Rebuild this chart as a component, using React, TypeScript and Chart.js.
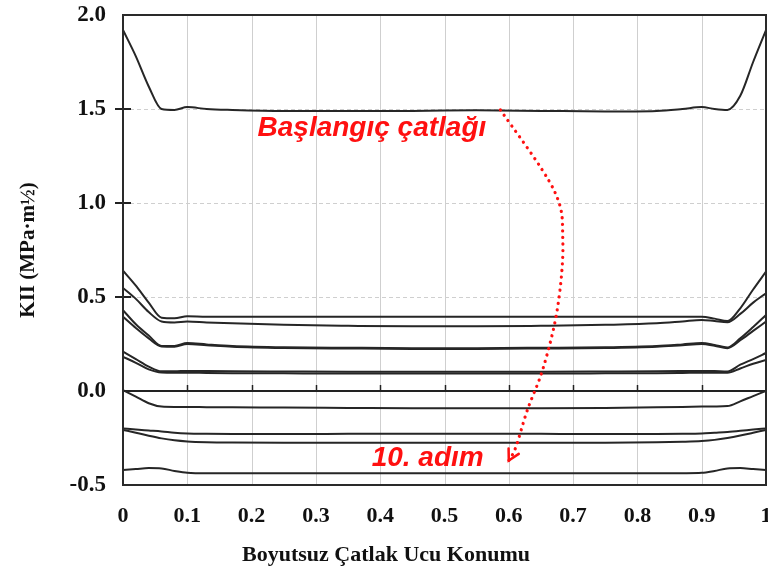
import React, { useEffect, useRef } from "react";
import { Chart, registerables } from "chart.js";

Chart.register(...registerables);

// ---- data ----
const xPositions = [0, 0.02, 0.04, 0.06, 0.08, 0.1, 0.13, 0.17, 0.25, 0.35, 0.45, 0.55, 0.65, 0.75, 0.83, 0.87, 0.9, 0.92, 0.94, 0.96, 0.98, 1];

const step0 = [1.92, 1.78, 1.62, 1.5, 1.495, 1.51, 1.5, 1.495, 1.49, 1.49, 1.49, 1.493, 1.49, 1.487, 1.49, 1.5, 1.51, 1.5, 1.495, 1.57, 1.75, 1.92];
const step1 = [0.64, 0.56, 0.47, 0.39, 0.387, 0.398, 0.395, 0.395, 0.395, 0.395, 0.395, 0.395, 0.395, 0.395, 0.395, 0.395, 0.395, 0.385, 0.372, 0.44, 0.54, 0.635];
const step2 = [0.548, 0.49, 0.42, 0.37, 0.365, 0.37, 0.365, 0.36, 0.352, 0.347, 0.344, 0.344, 0.347, 0.352, 0.36, 0.37, 0.378, 0.372, 0.366, 0.41, 0.47, 0.52];
const step3 = [0.43, 0.355, 0.295, 0.24, 0.24, 0.255, 0.248, 0.24, 0.233, 0.23, 0.228, 0.228, 0.23, 0.233, 0.24, 0.248, 0.255, 0.245, 0.232, 0.28, 0.34, 0.404];
const step4 = [0.395, 0.335, 0.28, 0.237, 0.236, 0.25, 0.244, 0.236, 0.229, 0.226, 0.224, 0.224, 0.226, 0.229, 0.236, 0.244, 0.25, 0.241, 0.228, 0.27, 0.32, 0.369];
const step5 = [0.209, 0.17, 0.13, 0.105, 0.105, 0.107, 0.106, 0.105, 0.104, 0.103, 0.103, 0.103, 0.103, 0.104, 0.105, 0.106, 0.107, 0.106, 0.104, 0.14, 0.17, 0.202];
const step6 = [0.182, 0.15, 0.115, 0.098, 0.097, 0.097, 0.096, 0.095, 0.094, 0.093, 0.093, 0.093, 0.093, 0.094, 0.095, 0.096, 0.097, 0.097, 0.097, 0.12, 0.145, 0.165];
const step7 = [0.005, -0.03, -0.065, -0.083, -0.085, -0.085, -0.086, -0.087, -0.088, -0.09, -0.092, -0.092, -0.092, -0.09, -0.087, -0.085, -0.083, -0.082, -0.08, -0.055, -0.027, 0.0];
const step8 = [-0.199, -0.205, -0.21, -0.215, -0.222, -0.226, -0.228, -0.229, -0.229, -0.228, -0.227, -0.227, -0.228, -0.229, -0.229, -0.228, -0.226, -0.222, -0.218, -0.212, -0.205, -0.199];
const step9 = [-0.207, -0.222, -0.238, -0.252, -0.262, -0.268, -0.272, -0.274, -0.275, -0.275, -0.275, -0.275, -0.275, -0.275, -0.273, -0.27, -0.266, -0.26, -0.25, -0.237, -0.222, -0.207];
const step10 = [-0.42, -0.415, -0.41, -0.412, -0.425, -0.435, -0.438, -0.438, -0.438, -0.438, -0.438, -0.438, -0.438, -0.438, -0.438, -0.437, -0.435, -0.425, -0.412, -0.41, -0.415, -0.42];

const allSteps = [step0, step1, step2, step3, step4, step5, step6, step7, step8, step9, step10];

const yTickValues = [-0.5, 0, 0.5, 1.0, 1.5, 2.0];
const yDashedGrid = [0.5, 1.0, 1.5];

const xTitle = "Boyutsuz Çatlak Ucu Konumu";
const yTitle = "KII (MPa·m½)";
const startLabel = "Başlangıç çatlağı";
const endLabel = "10. adım";

// annotation anchor points (data units)
const startLabelPos = [0.565, 1.4];
const endLabelPos = [0.561, -0.356];
const arrowPath = [
  [0.587, 1.495],
  [0.67, 1.07],
  [0.684, 0.8],
  [0.676, 0.447],
  [0.654, 0.128],
  [0.629, -0.1],
  [0.611, -0.298],
  [0.6, -0.37],
];

const serif = '"Liberation Serif", "Times New Roman", serif';
const sans = '"Liberation Sans", Arial, sans-serif';
const RED = "#ff1010";

const customPlugin = {
  id: "customGrid",
  beforeDatasetsDraw(chart: any) {
    const { ctx, chartArea, scales } = chart;
    const { left, right, top, bottom } = chartArea;
    const x = scales.x;
    const y = scales.y;
    ctx.save();
    // vertical grid
    ctx.strokeStyle = "#cfcfcf";
    ctx.lineWidth = 1;
    const xVals = x.ticks.map((t: any) => t.value).filter((v: number) => v > 0.001 && v < 0.999);
    for (const v of xVals) {
      const px = Math.round(x.getPixelForValue(v)) + 0.5;
      ctx.beginPath();
      ctx.moveTo(px, top);
      ctx.lineTo(px, bottom);
      ctx.stroke();
    }
    // dashed horizontal grid
    ctx.setLineDash([4, 3]);
    for (const v of yDashedGrid) {
      const py = Math.round(y.getPixelForValue(v)) + 0.5;
      ctx.beginPath();
      ctx.moveTo(left, py);
      ctx.lineTo(right, py);
      ctx.stroke();
    }
    ctx.setLineDash([]);
    // zero line with ticks
    ctx.strokeStyle = "#222";
    ctx.lineWidth = 2;
    const y0 = y.getPixelForValue(0);
    ctx.beginPath();
    ctx.moveTo(left, y0);
    ctx.lineTo(right, y0);
    ctx.stroke();
    ctx.lineWidth = 1.5;
    for (const v of xVals) {
      const px = Math.round(x.getPixelForValue(v)) + 0.5;
      ctx.beginPath();
      ctx.moveTo(px, y0);
      ctx.lineTo(px, y0 - 6);
      ctx.stroke();
    }
    // y ticks crossing the axis
    ctx.lineWidth = 2;
    for (const v of yDashedGrid) {
      const py = y.getPixelForValue(v);
      ctx.beginPath();
      ctx.moveTo(left - 8, py);
      ctx.lineTo(left + 8, py);
      ctx.stroke();
    }
    ctx.restore();
  },
  afterDatasetsDraw(chart: any) {
    const { ctx, chartArea, scales } = chart;
    const { left, right, top, bottom } = chartArea;
    const x = scales.x;
    const y = scales.y;
    ctx.save();
    // frame
    ctx.strokeStyle = "#2a2a2a";
    ctx.lineWidth = 2;
    ctx.strokeRect(left, top, right - left, bottom - top);

    // texts
    ctx.fillStyle = RED;
    ctx.font = `italic bold 28px ${sans}`;
    ctx.textAlign = "right";
    ctx.textBaseline = "middle";
    ctx.fillText(startLabel, x.getPixelForValue(startLabelPos[0]), y.getPixelForValue(startLabelPos[1]));
    ctx.fillText(endLabel, x.getPixelForValue(endLabelPos[0]), y.getPixelForValue(endLabelPos[1]));

    // dotted arrow (Catmull-Rom through points)
    const pts = arrowPath.map(([a, b]) => [x.getPixelForValue(a), y.getPixelForValue(b)]);
    ctx.strokeStyle = RED;
    ctx.lineWidth = 3.2;
    ctx.lineCap = "round";
    ctx.setLineDash([0.1, 6.5]);
    ctx.beginPath();
    ctx.moveTo(pts[0][0], pts[0][1]);
    for (let i = 0; i < pts.length - 1; i++) {
      const p0 = pts[Math.max(0, i - 1)];
      const p1 = pts[i];
      const p2 = pts[i + 1];
      const p3 = pts[Math.min(pts.length - 1, i + 2)];
      const c1x = p1[0] + (p2[0] - p0[0]) / 6;
      const c1y = p1[1] + (p2[1] - p0[1]) / 6;
      const c2x = p2[0] - (p3[0] - p1[0]) / 6;
      const c2y = p2[1] - (p3[1] - p1[1]) / 6;
      ctx.bezierCurveTo(c1x, c1y, c2x, c2y, p2[0], p2[1]);
    }
    ctx.stroke();
    // arrow head
    ctx.setLineDash([]);
    ctx.lineWidth = 2.5;
    const tip = pts[pts.length - 1];
    const prev = pts[pts.length - 2];
    const ang = Math.atan2(tip[1] - prev[1], tip[0] - prev[0]);
    const len = 12;
    ctx.beginPath();
    ctx.moveTo(tip[0] - len * Math.cos(ang - 0.5), tip[1] - len * Math.sin(ang - 0.5));
    ctx.lineTo(tip[0], tip[1]);
    ctx.lineTo(tip[0] - len * Math.cos(ang + 0.5), tip[1] - len * Math.sin(ang + 0.5));
    ctx.stroke();

    // x-axis title (placed left of the plot centre, as in the original)
    ctx.fillStyle = "#111";
    ctx.font = `bold 22px ${serif}`;
    ctx.textAlign = "center";
    ctx.textBaseline = "middle";
    ctx.fillText(xTitle, 386, 555);
    ctx.restore();
  },
};

export default function App() {
  const canvasRef = useRef<HTMLCanvasElement | null>(null);

  useEffect(() => {
    if (!canvasRef.current) return;
    const datasets = allSteps.map((vals, i) => ({
      label: i === 0 ? startLabel : `${i}. adım`,
      data: xPositions.map((xv, j) => ({ x: xv, y: vals[j] })),
      borderColor: "#262626",
      borderWidth: 2,
      pointRadius: 0,
      fill: false,
      cubicInterpolationMode: "monotone" as const,
    }));
    const chart = new Chart(canvasRef.current, {
      type: "line",
      data: { datasets },
      plugins: [customPlugin],
      options: {
        animation: false,
        responsive: false,
        maintainAspectRatio: false,
        layout: { padding: { top: 15, right: 2, left: 0, bottom: 0 }, autoPadding: false },
        plugins: { legend: { display: false }, tooltip: { enabled: false } },
        scales: {
          x: {
            type: "linear",
            min: 0,
            max: 1,
            afterFit: (s: any) => {
              s.height = 96;
              s.paddingLeft = 0;
              s.paddingRight = 0;
            },
            grid: { display: false, drawTicks: false },
            border: { display: false },
            ticks: {
              stepSize: 0.1,
              autoSkip: false,
              maxRotation: 0,
              padding: 18,
              color: "#111",
              font: { family: serif, weight: "bold", size: 22 },
              callback: (v: any) => {
                const n = Number(v);
                if (Math.abs(n) < 1e-9) return "0";
                if (Math.abs(n - 1) < 1e-9) return "1";
                return n.toFixed(1);
              },
            },
            title: { display: false },
          },
          y: {
            type: "linear",
            min: -0.5,
            max: 2,
            afterFit: (s: any) => {
              s.width = 123;
              s.paddingTop = 0;
              s.paddingBottom = 0;
            },
            afterBuildTicks: (s: any) => {
              s.ticks = yTickValues.map((v) => ({ value: v }));
            },
            grid: { display: false, drawTicks: false },
            border: { display: false },
            ticks: {
              padding: 17,
              color: "#111",
              font: { family: serif, weight: "bold", size: 23 },
              callback: (v: any) => Number(v).toFixed(1),
            },
            title: {
              display: true,
              text: yTitle,
              color: "#111",
              font: { family: serif, weight: "bold", size: 21 },
              padding: { top: 16, bottom: 0 },
            },
          },
        },
      },
    });
    return () => chart.destroy();
  }, []);

  return (
    <div style={{ position: "absolute", left: 0, top: 0, width: 768, height: 581, background: "#fff" }}>
      <canvas ref={canvasRef} width={768} height={581} style={{ display: "block" }} />
    </div>
  );
}
